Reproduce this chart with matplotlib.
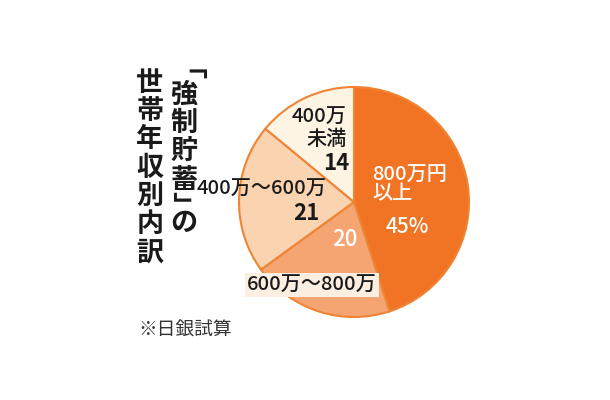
import matplotlib
matplotlib.use('Agg')
import matplotlib.pyplot as plt
from matplotlib.font_manager import FontProperties
from matplotlib.textpath import TextPath

plt.rcParams['font.family'] = ['Noto Sans CJK JP', 'DejaVu Sans']

# 世帯年収別の割合 (%)
labels = ['800万円以上', '600万～800万', '400万～600万', '400万未満']
shares = [45, 20, 21, 14]
colors = ['#F07423', '#F5A572', '#FAD3B0', '#FEF4E4']

title_right = list('強制貯蓄')
title_tail = 'の'
title_left = list('世帯年収別内訳')
note = '※日銀試算'

H = 400
DPI = 100
def Y(y):
    return H - y

fig = plt.figure(figsize=(6.1, 4), dpi=DPI)
ax = fig.add_axes([0, 0, 1, 1])

ax.pie(shares, colors=colors, startangle=90, counterclock=False,
       center=(354, Y(202)), radius=115,
       wedgeprops=dict(edgecolor='#EE8434', linewidth=1.5))
ax.set_xlim(0, 610)
ax.set_ylim(0, H)
ax.set_aspect('equal')
ax.axis('off')

# 縦書きタイトル
tsize = 19.5
tk = dict(fontsize=tsize, fontweight='bold', color='#1a1a1a')
fp = FontProperties(family='Noto Sans CJK JP', weight='bold', size=tsize)

def vbracket(ch, left, top):
    # 括弧を時計回りに90度回して縦書き用にする。インク範囲を測って位置合わせ
    ext = TextPath((0, 0), ch, prop=fp).get_extents()
    s = DPI / 72
    ax.text(left - ext.y0 * s, Y(top), ch, rotation=-90, rotation_mode='anchor',
            ha='left', va='baseline', **tk)

vbracket('「', 172, 68)
for i, ch in enumerate(title_right):
    ax.text(184, Y(95 + 28.2 * i), ch, ha='center', va='center', **tk)
vbracket('」', 172, 191)
ax.text(184, Y(223), title_tail, ha='center', va='center', **tk)
for i, ch in enumerate(title_left):
    ax.text(150, Y(83 + 28.2 * i), ch, ha='center', va='center', **tk)

ax.text(138, Y(330), note, fontsize=13.5, color='#333333', ha='left', va='center')

# 円グラフ内のラベル
dark = '#1a1a1a'
lk = dict(fontsize=14.5, fontweight='medium')
nk = dict(fontsize=16, fontweight='bold')
ax.text(372, Y(175), '800万円', color='white', ha='left', va='center', **lk)
ax.text(372, Y(194), '以上', color='white', ha='left', va='center', **lk)
ax.text(407, Y(227), f'{shares[0]}%', color='white', ha='center', va='center',
        fontsize=15, fontweight='medium')
ax.text(345, Y(240), f'{shares[1]}', color='white', ha='center', va='center',
        fontsize=16, fontweight='medium')
ax.text(312, Y(285), labels[1], color=dark, ha='center', va='center', **lk,
        bbox=dict(boxstyle='square,pad=0.12', facecolor='#FDEEE2', edgecolor='none'))
ax.text(262, Y(189), labels[2], color=dark, ha='center', va='center', **lk)
ax.text(306, Y(214), f'{shares[2]}', color=dark, ha='center', va='center', **nk)
ax.text(347, Y(117), '400万', color=dark, ha='right', va='center', **lk)
ax.text(347, Y(139), '未満', color=dark, ha='right', va='center', **lk)
ax.text(349, Y(163), f'{shares[3]}', color=dark, ha='right', va='center', **nk)

fig.savefig('out.png', dpi=DPI, facecolor='white')
